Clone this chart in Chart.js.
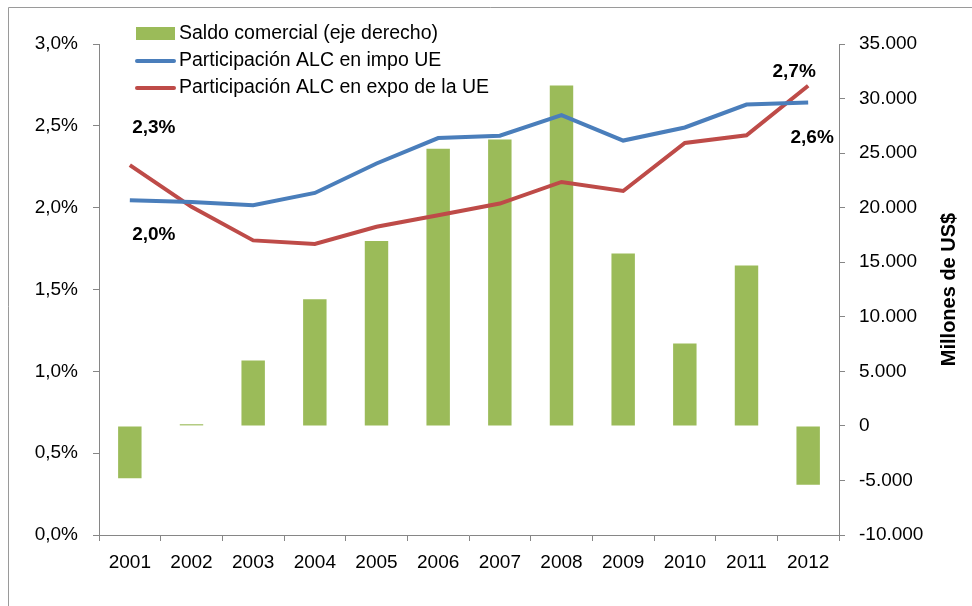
<!DOCTYPE html>
<html>
<head>
<meta charset="utf-8">
<title>Saldo comercial y participación ALC</title>
<script src="https://cdn.jsdelivr.net/npm/chart.js@4.4.1/dist/chart.umd.min.js"></script>
<style>
  html, body { margin: 0; padding: 0; background: #fff; }
  #wrap { width: 972px; height: 606px; }
</style>
</head>
<body>
<div id="wrap"><canvas id="chart" width="972" height="606"></canvas></div>
<script>
/* datos */
const years = ["2001", "2002", "2003", "2004", "2005", "2006", "2007", "2008", "2009", "2010", "2011", "2012"];
const saldo = [-4800, 150, 6000, 11600, 16950, 25400, 26250, 31200, 15800, 7550, 14700, -5400];   // millones US$
const impoUE = [2.045, 2.035, 2.015, 2.09, 2.27, 2.425, 2.44, 2.565, 2.41, 2.49, 2.63, 2.642];      // %
const expoUE = [2.26, 2.005, 1.8, 1.778, 1.883, 1.954, 2.025, 2.157, 2.102, 2.395, 2.442, 2.745];   // %

const AXIS = "#868686";
const FONT = "'Liberation Sans', Arial, sans-serif";

const pct = v => v.toFixed(1).replace(".", ",") + "%";
const miles = v => (v < 0 ? "-" : "") + Math.abs(v).toString().replace(/\B(?=(\d{3})+(?!\d))/g, ".");

/* marco, leyenda, etiquetas y titulo del eje derecho */
const extras = {
  id: "extras",
  beforeDraw(chart) {
    const c = chart.ctx;
    c.save();
    c.strokeStyle = "#9a9a9a";
    c.lineWidth = 1;
    c.beginPath();
    c.moveTo(8.5, 606);
    c.lineTo(8.5, 7.5);
    c.lineTo(972, 7.5);
    c.stroke();
    c.restore();
  },
  afterDraw(chart) {
    const c = chart.ctx;
    c.save();

    // leyenda
    c.fillStyle = "#9bbb59";
    c.fillRect(136, 27, 39, 13);
    c.lineWidth = 4;
    c.lineCap = "round";
    c.strokeStyle = "#4a7ebb";
    c.beginPath(); c.moveTo(137, 61); c.lineTo(174, 61); c.stroke();
    c.strokeStyle = "#be4b48";
    c.beginPath(); c.moveTo(137, 88); c.lineTo(174, 88); c.stroke();
    c.fillStyle = "#000";
    c.font = "19.5px " + FONT;
    c.textBaseline = "middle";
    c.textAlign = "left";
    c.fillText(chart.data.datasets[0].label, 179, 34);
    c.fillText(chart.data.datasets[1].label, 179, 61);
    c.fillText(chart.data.datasets[2].label, 179, 88);

    // etiquetas de primer y ultimo valor
    const blue = chart.getDatasetMeta(1).data;
    const red = chart.getDatasetMeta(2).data;
    const last = years.length - 1;
    c.font = "bold 19px " + FONT;
    c.textAlign = "center";
    c.fillText(pct(expoUE[0]), red[0].x + 24, red[0].y - 37);
    c.fillText(pct(impoUE[0]), blue[0].x + 24, blue[0].y + 34);
    c.fillText(pct(expoUE[last]), red[last].x - 14, red[last].y - 14);
    c.fillText(pct(impoUE[last]), blue[last].x + 4, blue[last].y + 35);

    // titulo eje derecho
    const a = chart.chartArea;
    c.translate(949, (a.top + a.bottom) / 2);
    c.rotate(-Math.PI / 2);
    c.font = "bold 20px " + FONT;
    c.fillText("Millones de US$", 0, 0);
    c.restore();
  }
};

new Chart(document.getElementById("chart"), {
  data: {
    labels: years,
    datasets: [
      {
        type: "bar",
        label: "Saldo comercial (eje derecho)",
        data: saldo,
        yAxisID: "y1",
        backgroundColor: "#9bbb59",
        borderWidth: 0,
        categoryPercentage: 1,
        barPercentage: 0.38,
        order: 2
      },
      {
        type: "line",
        label: "Participación ALC en impo UE",
        data: impoUE,
        yAxisID: "y",
        borderColor: "#4a7ebb",
        borderWidth: 4,
        pointRadius: 0,
        tension: 0,
        fill: false,
        order: 1
      },
      {
        type: "line",
        label: "Participación ALC en expo de la UE",
        data: expoUE,
        yAxisID: "y",
        borderColor: "#be4b48",
        borderWidth: 4,
        pointRadius: 0,
        tension: 0,
        fill: false,
        order: 1
      }
    ]
  },
  options: {
    responsive: false,
    animation: false,
    layout: { padding: { top: 44, left: 0, right: 0, bottom: 0 } },
    plugins: {
      legend: { display: false },
      tooltip: { enabled: false }
    },
    scales: {
      x: {
        offset: true,
        grid: { offset: true, drawOnChartArea: false, tickLength: 6, color: AXIS },
        border: { color: AXIS },
        ticks: { color: "#000", font: { family: FONT, size: 19 }, padding: 10, maxRotation: 0 },
        afterFit: s => { s.height = 71; }
      },
      y: {
        position: "left",
        min: 0,
        max: 3,
        grid: { drawOnChartArea: false, tickLength: 6, color: AXIS },
        border: { color: AXIS },
        ticks: { stepSize: 0.5, color: "#000", font: { family: FONT, size: 19 }, padding: 15, callback: v => pct(v) },
        afterFit: s => { s.width = 99; }
      },
      y1: {
        position: "right",
        min: -10000,
        max: 35000,
        grid: { drawOnChartArea: false, tickLength: 6, color: AXIS },
        border: { color: AXIS },
        ticks: { stepSize: 5000, color: "#000", font: { family: FONT, size: 19 }, padding: 14, callback: v => miles(v) },
        afterFit: s => { s.width = 133; }
      }
    }
  },
  plugins: [extras]
});
</script>
</body>
</html>
